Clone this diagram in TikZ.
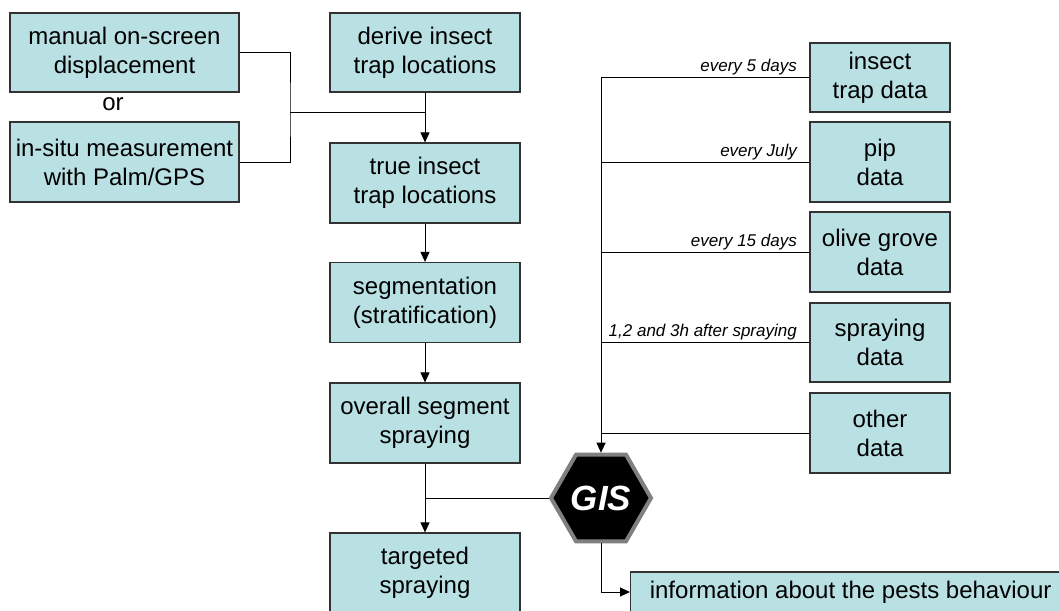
\documentclass[tikz,border=0pt]{standalone}
\usepackage{fontspec}
\setmainfont{Liberation Sans}
\usetikzlibrary{arrows.meta,shapes.geometric}
\definecolor{boxfill}{RGB}{185,224,227}
\definecolor{boxline}{RGB}{50,50,50}
\definecolor{gisedge}{RGB}{128,128,128}
\begin{document}
\begin{tikzpicture}[x=1pt,y=-1pt,
  box/.style={draw=boxline,line width=1.2pt,fill=boxfill,align=center,inner sep=0pt,font=\fontsize{24}{29}\selectfont},
  conn/.style={draw=black,line width=1pt},
  arr/.style={conn,-{Triangle[length=10pt,width=9pt]}},
  lbl/.style={font=\fontsize{17}{19}\selectfont\itshape,anchor=base east,inner sep=0pt}]
\useasboundingbox[fill=white] (0,0) rectangle (1059,610);
\clip (0,0) rectangle (1059,610);
% left column
\node[box,minimum width=229,minimum height=79] (manual) at (124.5,52.5) {manual on-screen\\displacement};
\node[font=\fontsize{24}{29}\selectfont,anchor=base,inner sep=0pt] (or) at (113,110) {or};
\node[box,minimum width=229,minimum height=80] (insitu) at (124.5,162) {in-situ measurement\\with Palm/GPS};
% centre column
\node[box,minimum width=190,minimum height=79] (derive) at (425,52.5) {derive insect\\trap locations};
\node[box,minimum width=190,minimum height=80] (true) at (425,183) {true insect\\trap locations};
\node[box,minimum width=190,minimum height=80] (seg) at (425,302.5) {segmentation\\(stratification)};
\node[box,minimum width=190,minimum height=80] (overall) at (425,423) {overall segment\\spraying};
\node[box,minimum width=190,minimum height=80] (target) at (425,573) {targeted\\spraying};
% right column
\node[box,minimum width=140,minimum height=69] (insect) at (880,77.5) {insect\\trap data};
\node[box,minimum width=140,minimum height=80] (pip) at (880,162) {pip\\data};
\node[box,minimum width=140,minimum height=80] (olive) at (880,252) {olive grove\\data};
\node[box,minimum width=140,minimum height=79] (spray) at (880,342.5) {spraying\\data};
\node[box,minimum width=140,minimum height=80] (other) at (880,433) {other\\data};
% GIS
\node[regular polygon,regular polygon sides=6,minimum size=100,fill=black,draw=gisedge,line width=4pt,inner sep=0pt,text=white,font=\fontsize{35}{38}\selectfont\bfseries\itshape] (GIS) at (601,498) {GIS};
\node[box,anchor=west,minimum width=440,minimum height=40] (info) at (630,592) {information about the pests behaviour};
% connectors, left
\coordinate (jl) at (290,112);
\draw[conn] (manual.east) -| (jl) |- (insitu.east);
\draw[conn] (jl) -- (jl -| derive.south);
\draw[arr] (derive.south) -- (true.north);
\draw[arr] (true.south) -- (seg.north);
\draw[arr] (seg.south) -- (overall.north);
\draw[arr] (overall.south) -- (target.north);
\draw[conn] (GIS.west) -- (GIS.west -| overall.south);
% bus
\coordinate (bus) at (GIS.north |- insect.west);
\draw[arr] (insect.west) -- (bus) -- (GIS.north);
\draw[conn] (pip.west) -- (pip.west -| bus);
\draw[conn] (olive.west) -- (olive.west -| bus);
\draw[conn] (spray.west) -- (spray.west -| bus);
\draw[conn] (other.west) -- (other.west -| bus);
\draw[arr] (GIS.south) |- (info.west);
% labels
\node[lbl] (l1) at (797,71.5) {every 5 days};
\node[lbl] (l2) at (797,156) {every July};
\node[lbl] (l3) at (797,246) {every 15 days};
\node[lbl] (l4) at (797,336.5) {1,2 and 3h after spraying};
\end{tikzpicture}
\end{document}
